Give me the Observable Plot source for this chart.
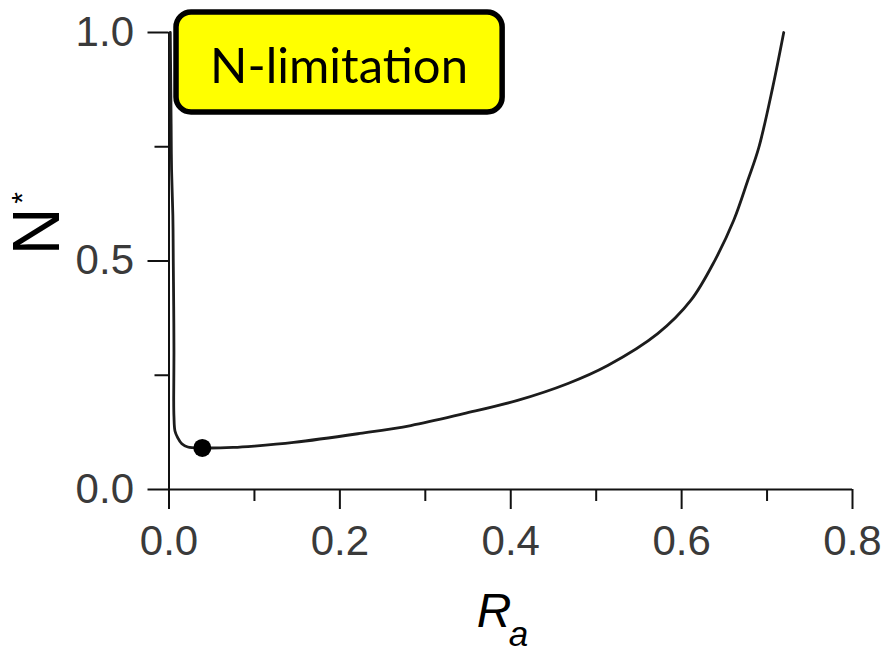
<!DOCTYPE html>
<html>
<head>
<meta charset="utf-8">
<script src="https://cdn.jsdelivr.net/npm/d3@7"></script>
<script src="https://cdn.jsdelivr.net/npm/@observablehq/plot@0.6"></script>
<style>
  html, body { margin: 0; padding: 0; background: #ffffff; }
  #chart { width: 888px; height: 652px; overflow: hidden; }
</style>
</head>
<body>
<div id="chart"></div>
<script>
// Curve: equilibrium N* versus R_a
const raValues = [0.0015, 0.002, 0.0025, 0.003, 0.0045, 0.005, 0.0055, 0.0058, 0.0055, 0.0058, 0.007, 0.010, 0.015, 0.022, 0.039, 0.075, 0.10, 0.146, 0.221, 0.283, 0.345, 0.408, 0.467, 0.5135, 0.572, 0.6107, 0.6388, 0.6610, 0.6774, 0.6903, 0.7066, 0.7195];
const nValues  = [1.0,    0.9,   0.8,    0.7,   0.6,    0.5,   0.4,    0.3,    0.2,    0.16,   0.128, 0.114, 0.100, 0.093, 0.091, 0.092, 0.095, 0.103, 0.122, 0.140, 0.166, 0.195, 0.232, 0.2713, 0.341, 0.4136, 0.501,  0.589,  0.676,  0.748,  0.880,  1.0];

// Highlighted point
const pointRa = [0.039];
const pointN = [0.091];

// Axis ticks
const xMajorTicks = [0, 0.2, 0.4, 0.6, 0.8];
const xMinorTicks = [0.1, 0.3, 0.5, 0.7];
const yMajorTicks = [0, 0.5, 1.0];
const yMinorTicks = [0.25, 0.75];

// Annotation label
const boxLabel = ["N-limitation"];
const boxRa = [0.0088, 0.3905];
const boxN = [0.825, 1.0438];
const boxTextPos = [0.1990, 0.9245];

const curve = raValues.map((r, i) => ({ra: r, n: nValues[i]}));
const pts = pointRa.map((r, i) => ({ra: r, n: pointN[i]}));

const chart = Plot.plot({
  width: 888,
  height: 652,
  marginLeft: 168.5,
  marginRight: 36,
  marginTop: 32,
  marginBottom: 163,
  style: {background: "#ffffff", fontFamily: "Liberation Sans, Arial, sans-serif", overflow: "visible"},
  x: {domain: [0, 0.8]},
  y: {domain: [0, 1]},
  marks: [
    // axis frame lines
    Plot.ruleY([0], {stroke: "#111", strokeWidth: 2}),
    Plot.ruleX([0], {stroke: "#111", strokeWidth: 2}),
    // x axis
    Plot.axisX({ticks: xMajorTicks, tickSize: 20, tickPadding: 16, tickFormat: d3.format(".1f"), fontSize: 42, stroke: "#111", strokeWidth: 2, fill: "#3a3a3a", label: null}),
    Plot.axisX({ticks: xMinorTicks, tickSize: 12, tickFormat: () => "", stroke: "#111", strokeWidth: 2, label: null}),
    // y axis
    Plot.axisY({ticks: yMajorTicks, tickSize: 21, tickPadding: 14, tickFormat: d3.format(".1f"), fontSize: 42, stroke: "#111", strokeWidth: 2, fill: "#3a3a3a", label: null}),
    Plot.axisY({ticks: yMinorTicks, tickSize: 14, tickFormat: () => "", stroke: "#111", strokeWidth: 2, label: null}),
    // curve
    Plot.line(curve, {x: "ra", y: "n", stroke: "#1c1c1c", strokeWidth: 2.8, curve: "catmull-rom"}),
    Plot.dot(pts, {x: "ra", y: "n", r: 9, fill: "#000", stroke: "none"}),
    // annotation box
    Plot.rect([0], {x1: boxRa[0], x2: boxRa[1], y1: boxN[0], y2: boxN[1], fill: "#ffff00", stroke: "#000", strokeWidth: 5.5, rx: 15}),
    Plot.text(boxLabel, {x: boxTextPos[0], y: boxTextPos[1], text: d => d, fontSize: 49, fontFamily: "Lato, sans-serif", fill: "#000", textAnchor: "middle", lineAnchor: "middle"}),
    // y axis title N*
    Plot.text(["N"], {frameAnchor: "left", text: d => d, rotate: -90, dx: -131.5, dy: -29.5, fontSize: 66, fill: "#000", textAnchor: "middle", lineAnchor: "middle"}),
    Plot.text(["*"], {frameAnchor: "left", text: d => d, rotate: -90, dx: -147, dy: -63, fontSize: 30, fill: "#000", textAnchor: "middle", lineAnchor: "middle"}),
    // x axis title R_a
    Plot.text(["R"], {frameAnchor: "bottom", text: d => d, dx: -34, dy: 122.5, fontSize: 48, fontStyle: "italic", fill: "#000", textAnchor: "start", lineAnchor: "middle"}),
    Plot.text(["a"], {frameAnchor: "bottom", text: d => d, dx: -2, dy: 145, fontSize: 35, fontStyle: "italic", fill: "#000", textAnchor: "start", lineAnchor: "middle"})
  ]
});
document.getElementById("chart").appendChild(chart);
</script>
</body>
</html>
